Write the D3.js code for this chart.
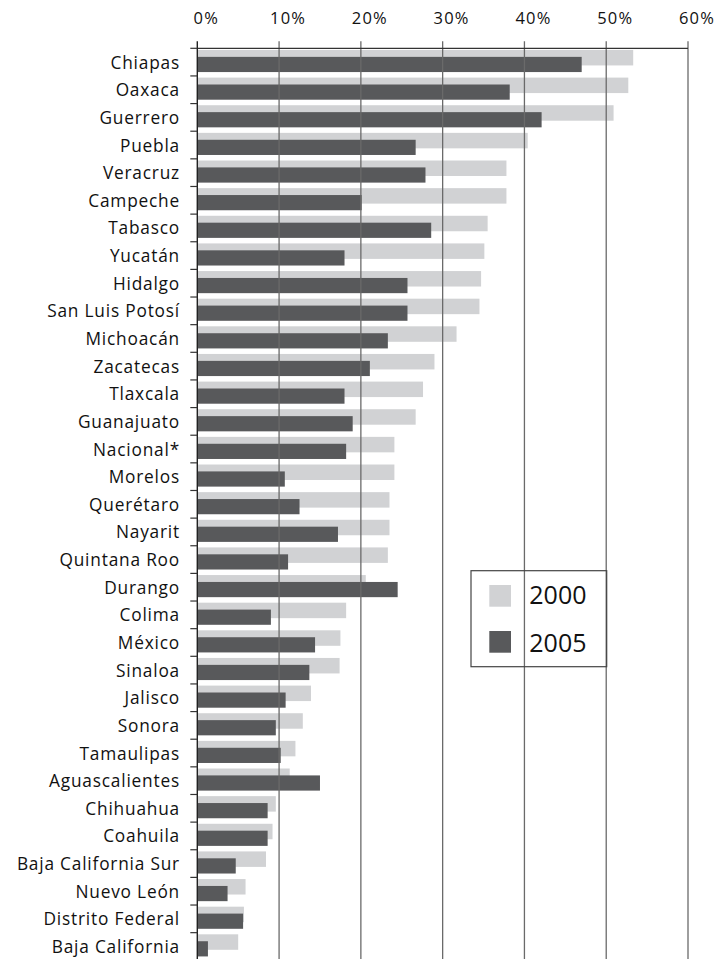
<!DOCTYPE html>
<html>
<meta charset="utf-8">
<style>
  body { margin: 0; background: #fff; }
  text { font-family: "Open Sans", "DejaVu Sans", sans-serif; fill: #111; }
</style>
<body>
<div id="viz"></div>
<script src="https://d3js.org/d3.v7.min.js"></script>
<script>
var estados = ["Chiapas", "Oaxaca", "Guerrero", "Puebla", "Veracruz", "Campeche", "Tabasco",
  "Yucatán", "Hidalgo", "San Luis Potosí", "Michoacán", "Zacatecas", "Tlaxcala", "Guanajuato",
  "Nacional*", "Morelos", "Querétaro", "Nayarit", "Quintana Roo", "Durango", "Colima", "México",
  "Sinaloa", "Jalisco", "Sonora", "Tamaulipas", "Aguascalientes", "Chihuahua", "Coahuila",
  "Baja California Sur", "Nuevo León", "Distrito Federal", "Baja California"];
var v2000 = [53.3, 52.7, 50.9, 40.4, 37.8, 37.8, 35.5, 35.1, 34.7, 34.5, 31.7, 29.0, 27.6, 26.7,
  24.1, 24.1, 23.5, 23.5, 23.3, 20.6, 18.2, 17.5, 17.4, 13.9, 12.9, 12.0, 11.3, 9.6, 9.2,
  8.4, 5.9, 5.7, 5.0];
var v2005 = [47.0, 38.2, 42.1, 26.7, 27.9, 20.1, 28.6, 18.0, 25.7, 25.7, 23.3, 21.1, 18.0, 19.0,
  18.2, 10.7, 12.5, 17.2, 11.1, 24.5, 9.0, 14.4, 13.7, 10.8, 9.6, 10.2, 15.0, 8.6, 8.6,
  4.7, 3.7, 5.6, 1.3];
var ticks = [0, 10, 20, 30, 40, 50, 60];
var series = ["2000", "2005"];
var colores = ["#d1d2d4", "#58595b"];

var svg = d3.select("#viz").append("svg")
  .attr("width", 716)
  .attr("height", 959);

var x = d3.scaleLinear().domain([0, 60]).range([197.3, 688]);
var y = d3.scaleBand().domain(estados).range([48.3, 960.3]).padding(0);
var bw = y.bandwidth();
var arriba = y.range()[0];  // ojo: "top" es de window, no usar

// barras 2000
svg.selectAll("rect.b2000")
  .data(estados)
  .enter().append("rect")
  .attr("class", "b2000")
  .attr("x", x(0))
  .attr("y", function(d) { return y(d) + bw * 0.06; })
  .attr("width", function(d, i) { return x(v2000[i]) - x(0); })
  .attr("height", bw * 0.56)
  .attr("fill", colores[0]);

// barras 2005
svg.selectAll("rect.b2005")
  .data(estados)
  .enter().append("rect")
  .attr("class", "b2005")
  .attr("x", x(0))
  .attr("y", function(d) { return y(d) + bw * 0.31; })
  .attr("width", function(d, i) { return x(v2005[i]) - x(0); })
  .attr("height", bw * 0.55)
  .attr("fill", colores[1]);

// lineas verticales, salen un poco por arriba como marcas del eje
svg.selectAll("line.grid")
  .data(ticks.filter(function(t) { return t > 0; }))
  .enter().append("line")
  .attr("class", "grid")
  .attr("x1", function(d) { return x(d); })
  .attr("x2", function(d) { return x(d); })
  .attr("y1", arriba - 7)
  .attr("y2", 962)
  .attr("stroke", "#6a6a6a")
  .attr("stroke-width", 1.3);

// linea de arriba
svg.append("line")
  .attr("x1", x(0)).attr("x2", x(60))
  .attr("y1", arriba).attr("y2", arriba)
  .attr("stroke", "#333").attr("stroke-width", 1.2);

// etiquetas de arriba
var ejeX = svg.append("g")
  .attr("transform", "translate(0,24)")
  .call(d3.axisTop(x).tickValues(ticks).tickSize(0).tickFormat(function(d) { return d + "%"; }));
ejeX.select(".domain").remove();
ejeX.selectAll("text")
  .attr("dx", 8.5)
  .attr("y", 0)
  .style("font-size", "16.5px")
  .style("letter-spacing", "1.2px")
  .style("font-family", "'Open Sans', sans-serif")
  .attr("fill", "#111");

// eje izquierdo
svg.append("line")
  .attr("x1", x(0)).attr("x2", x(0))
  .attr("y1", arriba - 7).attr("y2", 962)
  .attr("stroke", "#222").attr("stroke-width", 1.4);
svg.selectAll("line.tick-y")
  .data(estados)
  .enter().append("line")
  .attr("class", "tick-y")
  .attr("x1", x(0) - 7).attr("x2", x(0))
  .attr("y1", function(d) { return y(d); })
  .attr("y2", function(d) { return y(d); })
  .attr("stroke", "#333").attr("stroke-width", 1.2);

svg.selectAll("text.estado")
  .data(estados)
  .enter().append("text")
  .attr("class", "estado")
  .attr("x", 180)
  .attr("y", function(d) { return y(d) + bw / 2 + 6.5; })
  .attr("text-anchor", "end")
  .style("font-size", "17.3px")
  .style("letter-spacing", "0.8px")
  .text(function(d) { return d; });

// leyenda (sin fondo, las lineas pasan por detras)
var ley = svg.append("g").attr("transform", "translate(471,570.7)");
ley.append("rect")
  .attr("width", 135.7).attr("height", 96)
  .attr("fill", "none")
  .attr("stroke", "#444").attr("stroke-width", 1.2);
ley.selectAll("rect.sw")
  .data(series)
  .enter().append("rect")
  .attr("class", "sw")
  .attr("x", 18.3)
  .attr("y", function(d, i) { return 14.3 + i * 46; })
  .attr("width", 21.7).attr("height", 21.7)
  .attr("fill", function(d, i) { return colores[i]; });
ley.selectAll("text")
  .data(series)
  .enter().append("text")
  .attr("x", 58.3)
  .attr("y", function(d, i) { return 33.6 + i * 47.4; })
  .style("font-size", "25px")
  .text(function(d) { return d; });
</script>
</body>
</html>
